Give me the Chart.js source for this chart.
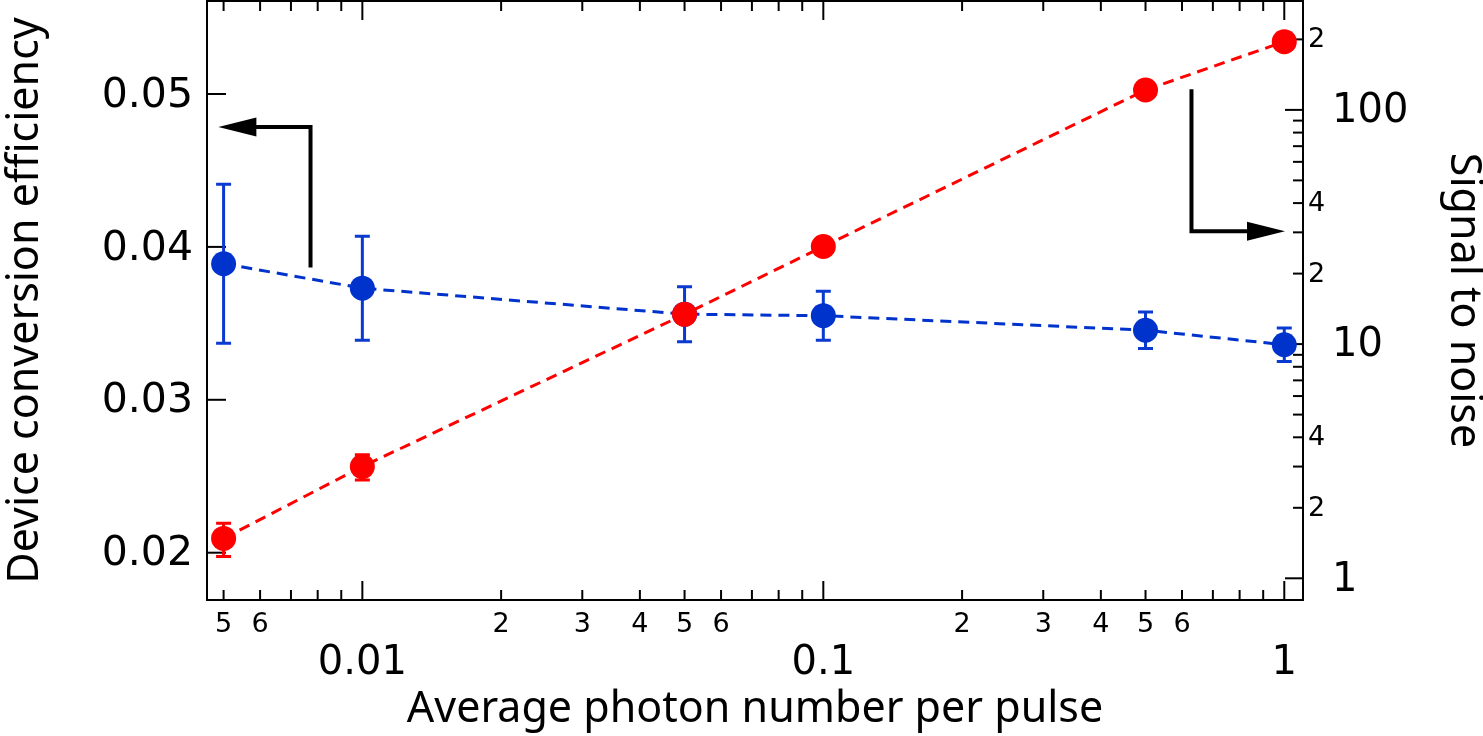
<!DOCTYPE html>
<html><head><meta charset="utf-8">
<script src="https://cdn.jsdelivr.net/npm/chart.js@4/dist/chart.umd.min.js"></script>
<style>html,body{margin:0;padding:0;background:#fff;overflow:hidden}#wrap{width:1483px;height:736px;position:relative}</style>
</head><body><div id="wrap"><canvas id="c"></canvas></div>
<script>
// ---- data ----
const photonNumber = [0.005, 0.01, 0.05, 0.1, 0.5, 1];
const efficiency = [0.0389, 0.0373, 0.0356, 0.0355, 0.03455, 0.0336];
const efficiencyErr = [0.0052, 0.0034, 0.0018, 0.0016, 0.0012, 0.0011];
const signalToNoise = [1.48, 3.0, 13.4, 26.1, 121.6, 195.6];
const signalToNoiseErr = [0.24, 0.37, null, null, null, null];

// ---- ticks ----
const xMinorTickValues = [0.005,0.006,0.007,0.008,0.009,0.02,0.03,0.04,0.05,0.06,0.07,0.08,0.09,0.2,0.3,0.4,0.5,0.6,0.7,0.8,0.9];
const xMajorTickValues = [0.01, 0.1, 1];
const xMajorTickText = ['0.01', '0.1', '1'];
const xLabeledMinorValues = [0.005,0.006,0.02,0.03,0.04,0.05,0.06,0.2,0.3,0.4,0.5,0.6];
const xLabeledMinorText = ['5','6','2','3','4','5','6','2','3','4','5','6'];
const leftTickValues = [0.02, 0.03, 0.04, 0.05];
const leftTickText = ['0.02', '0.03', '0.04', '0.05'];
const rightMajorValues = [1, 10, 100];
const rightMajorText = ['1', '10', '100'];
const rightMinorValues = [2,3,4,5,6,7,8,9,20,30,40,50,60,70,80,90,200];
const rightLabeledMinorValues = [2, 4, 20, 40, 200];
const rightLabeledMinorText = ['2', '4', '2', '4', '2'];

// ---- axis ranges ----
const X_MIN = 0.0046023, X_MAX = 1.0980;
const EFF_MIN = 0.016906, EFF_MAX = 0.056083;
const SNR_MIN = 0.8079, SNR_MAX = 291.7;

// ---- annotation arrows (data coordinates on x / left y) ----
const arrowLeft = {x: [0.007719, 0.007719, 0.004871], y: [0.038653, 0.047842, 0.047842]};
const arrowRight = {x: [0.6290, 0.6290, 1.0035], y: [0.050307, 0.041027, 0.041027]};

const BLUE = '#0033cc', BLUE_BAR = '#0a3ad0', RED = '#ff0000';
const NUM_FONT = 'DejaVu Sans', TITLE_FONT = 'Noto Sans';

const fixW = w => s => { s.width = w; s.paddingTop = 0; s.paddingBottom = 0; s.paddingLeft = 0; s.paddingRight = 0; };
const fixH = h => s => { s.height = h; s.paddingTop = 0; s.paddingBottom = 0; s.paddingLeft = 0; s.paddingRight = 0; };
const setTicks = vals => s => { s.ticks = vals.map(v => ({value: v})); };

const frameTicks = {
  id: 'frameTicks',
  beforeDatasetsDraw(chart) {
    const {ctx, chartArea: a, scales: {x, y, y2}} = chart;
    ctx.save();
    ctx.strokeStyle = '#000'; ctx.lineWidth = 2; ctx.lineCap = 'butt';
    const seg = (x1, y1, x2, y2_) => { ctx.beginPath(); ctx.moveTo(x1, y1); ctx.lineTo(x2, y2_); ctx.stroke(); };
    seg(a.left - 1, a.top, a.right + 1, a.top);
    const xt = (vals, len) => vals.forEach(v => { const p = x.getPixelForValue(v); seg(p, a.bottom, p, a.bottom - len); seg(p, a.top, p, a.top + len); });
    xt(xMinorTickValues, 10); xt(xMajorTickValues, 19);
    leftTickValues.forEach(v => { const p = y.getPixelForValue(v); seg(a.left, p, a.left + 19, p); });
    rightMinorValues.forEach(v => { const p = y2.getPixelForValue(v); seg(a.right, p, a.right - 10, p); });
    rightMajorValues.forEach(v => { const p = y2.getPixelForValue(v); seg(a.right, p, a.right - 18, p); });
    ctx.restore();
  }
};

const errorBars = {
  id: 'errorBars',
  beforeDatasetsDraw(chart) {
    const {ctx, scales: {x, y, y2}} = chart;
    ctx.save(); ctx.lineWidth = 3; ctx.lineCap = 'butt';
    const draw = (vals, errs, scale, color) => {
      ctx.strokeStyle = color;
      photonNumber.forEach((xv, i) => {
        if (errs[i] == null) return;
        const px = x.getPixelForValue(xv);
        const t = scale.getPixelForValue(vals[i] + errs[i]);
        const b = scale.getPixelForValue(vals[i] - errs[i]);
        ctx.beginPath(); ctx.moveTo(px, t); ctx.lineTo(px, b);
        ctx.moveTo(px - 7.5, t); ctx.lineTo(px + 7.5, t);
        ctx.moveTo(px - 7.5, b); ctx.lineTo(px + 7.5, b);
        ctx.stroke();
      });
    };
    draw(efficiency, efficiencyErr, y, BLUE_BAR);
    draw(signalToNoise, signalToNoiseErr, y2, RED);
    ctx.restore();
  }
};

const arrowsPlugin = {
  id: 'arrows',
  afterDatasetsDraw(chart) {
    const {ctx, scales: {x, y}} = chart;
    ctx.save(); ctx.strokeStyle = '#000'; ctx.fillStyle = '#000'; ctx.lineWidth = 4; ctx.lineJoin = 'miter'; ctx.lineCap = 'butt';
    [arrowLeft, arrowRight].forEach(ar => {
      const pts = ar.x.map((xv, i) => [x.getPixelForValue(xv), y.getPixelForValue(ar.y[i])]);
      const [p0, p1, p2] = pts;
      const dx = p2[0] - p1[0], dy = p2[1] - p1[1], L = Math.hypot(dx, dy), ux = dx / L, uy = dy / L;
      const head = 38, hw = 9.5;
      const base = [p2[0] - ux * head, p2[1] - uy * head];
      ctx.beginPath(); ctx.moveTo(p0[0], p0[1]); ctx.lineTo(p1[0], p1[1]); ctx.lineTo(base[0] + ux * 2, base[1] + uy * 2); ctx.stroke();
      ctx.beginPath(); ctx.moveTo(p2[0], p2[1]);
      ctx.lineTo(base[0] - uy * hw, base[1] + ux * hw);
      ctx.lineTo(base[0] + uy * hw, base[1] - ux * hw);
      ctx.closePath(); ctx.fill();
    });
    ctx.restore();
  }
};

const numFont = size => ({family: NUM_FONT, size: size});
const titleFont = {family: TITLE_FONT, size: 43};

new Chart(document.getElementById('c'), {
  type: 'scatter',
  data: {
    datasets: [
      {
        label: 'Signal to noise',
        data: photonNumber.map((xv, i) => ({x: xv, y: signalToNoise[i]})),
        xAxisID: 'x', yAxisID: 'y2', showLine: true,
        borderColor: RED, borderWidth: 3, borderDash: [11, 7],
        pointRadius: 12.5, pointBackgroundColor: RED, pointBorderWidth: 0, pointBorderColor: RED,
        order: 0
      },
      {
        label: 'Device conversion efficiency',
        data: photonNumber.map((xv, i) => ({x: xv, y: efficiency[i]})),
        xAxisID: 'x', yAxisID: 'y', showLine: true,
        borderColor: BLUE, borderWidth: 3, borderDash: [11, 7],
        pointRadius: 12.5, pointBackgroundColor: BLUE, pointBorderWidth: 0, pointBorderColor: BLUE,
        order: 1
      }
    ]
  },
  options: {
    responsive: true, maintainAspectRatio: false, animation: false, events: [],
    layout: {autoPadding: false, padding: {top: 1, left: 0, right: 0, bottom: 0}},
    plugins: {legend: {display: false}, tooltip: {enabled: false}},
    scales: {
      x: {
        type: 'logarithmic', position: 'bottom', weight: 0, min: X_MIN, max: X_MAX, bounds: 'data',
        grid: {display: false, drawTicks: false}, border: {display: true, color: '#000', width: 2},
        ticks: {autoSkip: false, maxRotation: 0, minRotation: 0, padding: 9, color: '#000', font: numFont(27),
                callback: (v, i) => xLabeledMinorText[i]},
        afterBuildTicks: setTicks(xLabeledMinorValues), afterFit: fixH(34)
      },
      x2: {
        type: 'logarithmic', position: 'bottom', weight: 1, min: X_MIN, max: X_MAX, bounds: 'data',
        grid: {display: false, drawTicks: false}, border: {display: false},
        ticks: {autoSkip: false, maxRotation: 0, minRotation: 0, padding: 6, color: '#000', font: numFont(40),
                callback: (v, i) => xMajorTickText[i]},
        title: {display: true, text: 'Average photon number per pulse', color: '#000', font: titleFont, padding: 0},
        afterBuildTicks: setTicks(xMajorTickValues), afterFit: fixH(102)
      },
      y: {
        type: 'linear', position: 'left', min: EFF_MIN, max: EFF_MAX, bounds: 'data',
        grid: {display: false, drawTicks: false}, border: {display: true, color: '#000', width: 2},
        ticks: {autoSkip: false, padding: 14, color: '#000', font: numFont(41), labelOffset: 2,
                callback: (v, i) => leftTickText[i]},
        title: {display: true, text: 'Device conversion efficiency', color: '#000', font: titleFont, padding: 0},
        afterBuildTicks: setTicks(leftTickValues), afterFit: fixW(207)
      },
      y2: {
        type: 'logarithmic', position: 'right', weight: 0, min: SNR_MIN, max: SNR_MAX, bounds: 'data',
        grid: {display: false, drawTicks: false}, border: {display: true, color: '#000', width: 2},
        ticks: {autoSkip: false, padding: 5, color: '#000', font: numFont(27), labelOffset: 1,
                callback: (v, i) => rightLabeledMinorText[i]},
        afterBuildTicks: setTicks(rightLabeledMinorValues), afterFit: fixW(25)
      },
      y3: {
        type: 'logarithmic', position: 'right', weight: 1, min: SNR_MIN, max: SNR_MAX, bounds: 'data',
        grid: {display: false, drawTicks: false}, border: {display: false},
        ticks: {autoSkip: false, padding: 4, color: '#000', font: numFont(40), labelOffset: 2,
                callback: (v, i) => rightMajorText[i]},
        title: {display: true, text: 'Signal to noise', color: '#000', font: {family: TITLE_FONT, size: 43, lineHeight: 0.9}, padding: 0},
        afterBuildTicks: setTicks(rightMajorValues), afterFit: fixW(155)
      }
    }
  },
  plugins: [frameTicks, errorBars, arrowsPlugin]
});
</script>
</body></html>
